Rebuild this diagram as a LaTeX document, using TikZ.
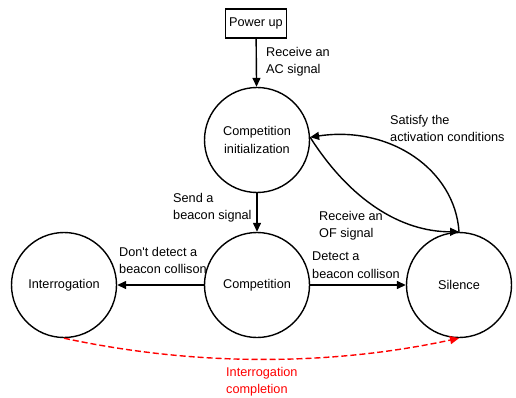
\documentclass[tikz,border=0pt]{standalone}
\usepackage{fontspec}
\setmainfont{Liberation Sans}
\usetikzlibrary{arrows.meta}
\begin{document}
\begin{tikzpicture}[x=1pt,y=-1pt,
  every node/.style={font=\fontsize{12.7}{17.5}\selectfont},
  state/.style={circle,draw,line width=1.4pt,minimum size=105pt,inner sep=0pt,align=center},
  startbox/.style={rectangle,draw,line width=1.4pt,minimum width=61pt,minimum height=29pt,inner sep=0pt},
  lbl/.style={anchor=north west,inner sep=0pt,align=left},
  flow/.style={line width=1.4pt,-{Triangle[length=9pt,width=8pt]}},
  redflow/.style={flow,red,dash pattern=on 6pt off 3pt}
]
\useasboundingbox (0,0) rectangle (516,398);

% states
\node[startbox] (pwr) at (256,23.5) {Power up};
\node[state] (init) at (257,140) {Competition\\initialization};
\node[state] (comp) at (257,285) {Competition};
\node[state] (intr) at (64,285) {Interrogation};
\node[state] (sil) at (459,285) {Silence};

% transitions
\draw[flow] (pwr) -- (init);
\draw[flow] (init) -- (comp);
\draw[flow] (comp) -- (intr);
\draw[flow] (comp) -- (sil);
\draw[flow] (init.3) .. controls +(40,63) and +(-58,0) .. (sil.north);
\draw[flow] (sil.north) .. controls +(-4,-62) and +(80,-12) .. (init.3);
\draw[redflow] (intr.south) .. controls +(130,28) and +(-130,28) .. (sil.south);

% transition labels
\node[lbl] (l1) at (266,47) {Receive an\\AC signal};
\node[lbl] (l2) at (390,115) {Satisfy the\\activation conditions};
\node[lbl] (l3) at (173,193) {Send a\\beacon signal};
\node[lbl] (l4) at (319,211) {Receive an\\OF signal};
\node[lbl] (l5) at (119,247) {Don\textquotesingle t detect a\\beacon collison};
\node[lbl] (l6) at (312,252) {Detect a\\beacon collison};
\node[lbl,text=red] (l7) at (226,367) {Interrogation\\completion};
\end{tikzpicture}
\end{document}
